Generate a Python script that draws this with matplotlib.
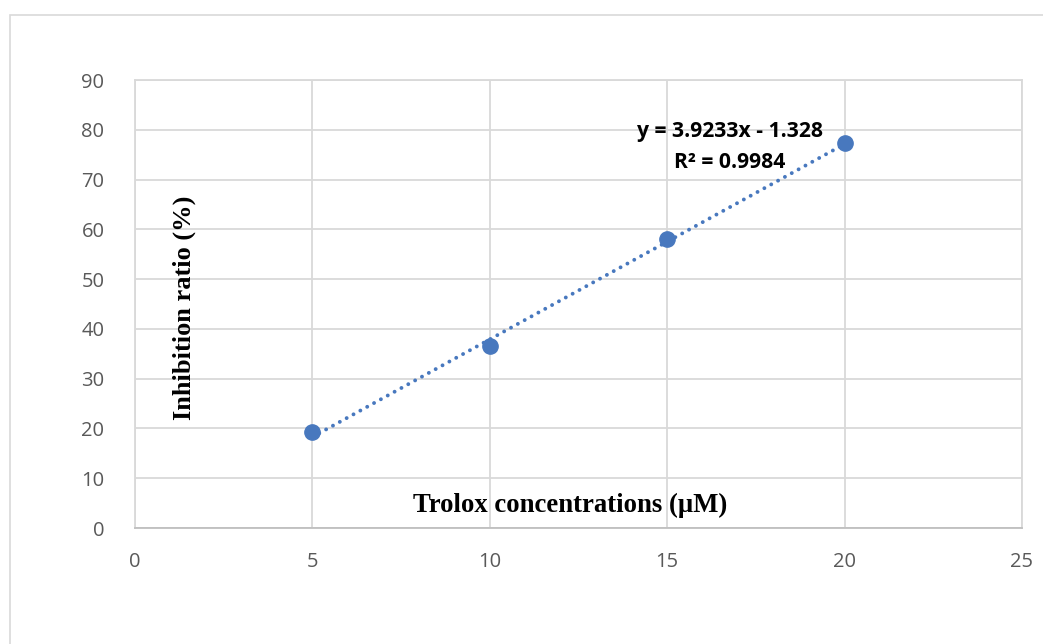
import numpy as np
import matplotlib.pyplot as plt
from matplotlib.patches import Rectangle

# Data
conc = [5, 10, 15, 20]
inhibition = [19.2, 36.5, 58.0, 77.3]
slope, intercept = 3.9233, -1.328
eq_text = "y = 3.9233x - 1.328\nR² = 0.9984"

blue = '#4878BE'
grid_col = '#D9D9D9'
tick_col = '#595959'

fig = plt.figure(figsize=(10.43, 6.44), dpi=100)
ax = fig.add_axes([135/1043, 1 - 528/644, (1022 - 135)/1043, (528 - 80)/644])

# outer chart border (cut off at right/bottom like the source)
fig.patches.append(Rectangle((10/1043, -0.05), 1.1, 1 - 15/644 + 0.05,
                             transform=fig.transFigure, fill=False,
                             edgecolor=grid_col, linewidth=1.2))

# trendline (round dots)
xs = np.array([conc[0], conc[-1]])
ax.plot(xs, slope * xs + intercept, linestyle=(0, (0.01, 2.0)), color=blue,
        linewidth=2.8, dash_capstyle='round', zorder=3)
ax.plot(conc, inhibition, 'o', color=blue, markersize=11, zorder=4)

ax.set_xlim(0, 25)
ax.set_ylim(0, 90)
ax.set_xticks(range(0, 26, 5))
ax.set_yticks(range(0, 91, 10))
ax.grid(True, color=grid_col, linewidth=1.3)
ax.set_axisbelow(True)
for s in ['top', 'right', 'left']:
    ax.spines[s].set_color(grid_col)
    ax.spines[s].set_linewidth(1.3)
ax.spines['bottom'].set_color('#BFBFBF')
ax.spines['bottom'].set_linewidth(1.3)
ax.tick_params(length=0, labelsize=14.5, labelcolor=tick_col)
ax.tick_params(axis='y', pad=22)
ax.tick_params(axis='x', pad=17)
for lab in ax.get_xticklabels() + ax.get_yticklabels():
    lab.set_fontfamily('Open Sans')

ax.text(570/1043, 1 - 505/644, "Trolox concentrations (μM)", transform=fig.transFigure,
        ha='center', va='center', fontsize=19.3, fontweight='bold',
        family='Liberation Serif')
ax.text(184/1043, 1 - 308/644, "Inhibition ratio (%)", transform=fig.transFigure,
        ha='center', va='center', rotation=90, fontsize=19, fontweight='bold',
        family='Liberation Serif')
ax.text(730/1043, 1 - 147/644, eq_text, transform=fig.transFigure,
        ha='center', va='center', fontsize=15.2, fontweight='bold',
        family='Open Sans', linespacing=1.6)

fig.savefig('out.png', dpi=100)
